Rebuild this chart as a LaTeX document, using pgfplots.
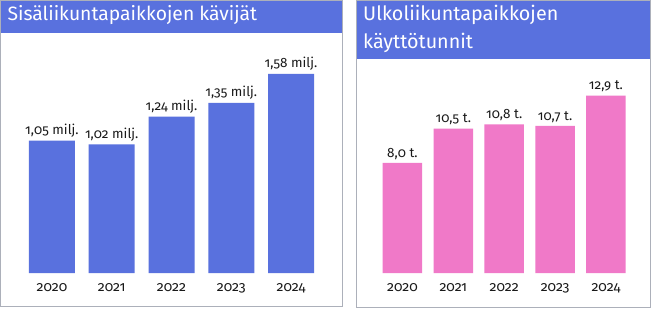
\documentclass[border=0pt]{standalone}
\usepackage{fontspec}
\setmainfont{Fira Sans}[Numbers=OldStyle]
\usepackage{pgfplots}
\pgfplotsset{compat=1.18}
\definecolor{barblue}{RGB}{89,113,222}
\definecolor{barpink}{RGB}{240,121,200}
\definecolor{framegray}{RGB}{172,176,186}
\definecolor{txt}{RGB}{25,25,25}
\pgfplotsset{
  panel/.style={
    scale only axis, anchor=south west, clip=false,
    xmin=-0.5, xmax=4.5, ymin=0,
    axis line style={draw=none},
    major tick length=0pt, ytick=\empty,
    xtick={0,1,2,3,4},
    xticklabels={2020,2021,2022,2023,2024},
    xticklabel style={font=\fontsize{14}{16}\selectfont, text=txt, yshift=-7bp},
    ybar, bar shift=0pt,
    point meta=explicit symbolic,
    nodes near coords,
    nodes near coords style={font=\fontsize{13.5}{16}\selectfont, text=txt, anchor=south, yshift=0bp},
  }
}
\begin{document}
\begin{tikzpicture}
\fill[white] (0bp,0bp) rectangle (652bp,308bp);
% left panel
\draw[framegray, line width=1bp] (0.5bp,2.5bp) rectangle (342.5bp,308.5bp);
\fill[barblue] (1bp,276bp) rectangle (342bp,308bp);
\node[anchor=west, text=white, font=\fontsize{19.4}{22}\selectfont] at (4bp,294bp) {Sisäliikuntapaikkojen kävijät};
% right panel
\draw[framegray, line width=1bp] (356.5bp,1.5bp) rectangle (650.5bp,308.5bp);
\fill[barblue] (357bp,250bp) rectangle (650bp,308bp);
\node[anchor=north west, text=white, align=left, font=\fontsize{19.8}{28}\selectfont, inner sep=0pt] at (363bp,304bp) {Ulkoliikuntapaikkojen\\käyttötunnit};

\begin{axis}[panel, at={(22.1bp,36bp)}, width=298.8bp, height=232bp, ymax=1.841, bar width=46bp]
\addplot[fill=barblue, draw=none] coordinates {
 (0,1.05) [1,05 milj.]
 (1,1.02) [1,02 milj.]
 (2,1.24) [1,24 milj.]
 (3,1.35) [1,35 milj.]
 (4,1.58) [1,58 milj.]
};
\end{axis}

\begin{axis}[panel, at={(377bp,36bp)}, width=254.4bp, height=202bp, ymax=14.69, bar width=39.5bp]
\addplot[fill=barpink, draw=none] coordinates {
 (0,8.0) [8,0 t.]
 (1,10.5) [10,5 t.]
 (2,10.8) [10,8 t.]
 (3,10.7) [10,7 t.]
 (4,12.9) [12,9 t.]
};
\end{axis}
\end{tikzpicture}
\end{document}
